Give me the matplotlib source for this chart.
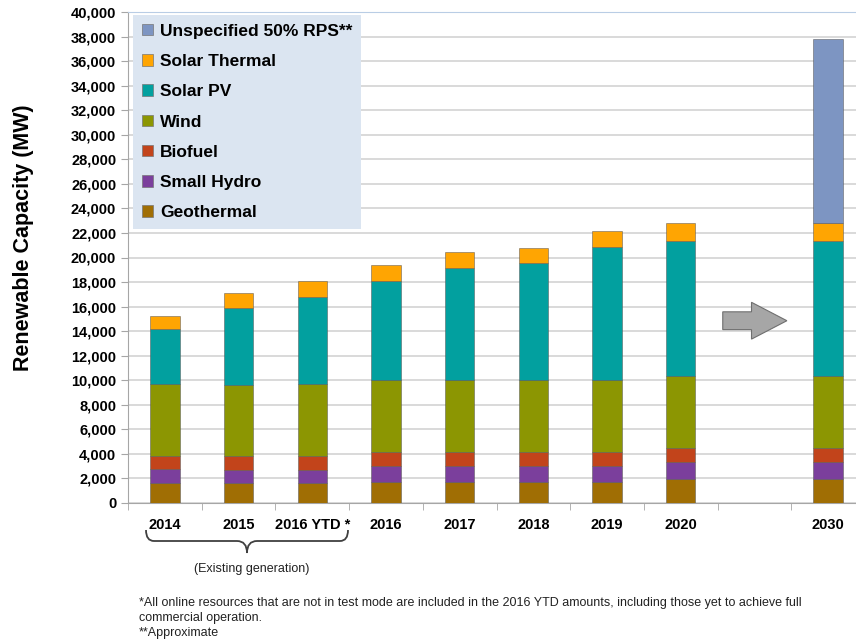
import numpy as np
import matplotlib
matplotlib.use("Agg")
import matplotlib.pyplot as plt
from matplotlib.patches import Patch, FancyArrow, PathPatch
from matplotlib.path import Path
from matplotlib.ticker import FuncFormatter, MultipleLocator

# --- data (MW); None = empty slot before 2030
years = ['2014', '2015', '2016 YTD *', '2016', '2017', '2018', '2019', '2020', '', '2030']
geothermal = [1600, 1600, 1600, 1750, 1750, 1750, 1750, 1980, None, 1980]
small_hydro = [1200, 1100, 1100, 1290, 1290, 1290, 1290, 1330, None, 1330]
biofuel = [1050, 1150, 1150, 1120, 1120, 1130, 1130, 1140, None, 1140]
wind = [5850, 5740, 5850, 5870, 5870, 5850, 5850, 5920, None, 5920]
solar_pv = [4500, 6300, 7080, 8090, 9150, 9510, 10860, 11000, None, 11000]
solar_thermal = [1030, 1240, 1310, 1250, 1250, 1270, 1280, 1420, None, 1420]
unspecified = [0, 0, 0, 0, 0, 0, 0, 0, None, 14980]

series = [
    ('Geothermal', geothermal, '#a06e04'),
    ('Small Hydro', small_hydro, '#7b3f9c'),
    ('Biofuel', biofuel, '#c2441b'),
    ('Wind', wind, '#8c9602'),
    ('Solar PV', solar_pv, '#02a09f'),
    ('Solar Thermal', solar_thermal, '#ffa502'),
    ('Unspecified 50% RPS**', unspecified, '#7d95c2'),
]

W, H = 856, 644
plt.rcParams['font.family'] = ['Liberation Sans', 'DejaVu Sans']

fig = plt.figure(figsize=(W / 100, H / 100), dpi=100)


def px(x, y):
    return (x / W, 1 - y / H)


x0, y_top = 128, 12
x1, y_bot = 865, 503
ax = fig.add_axes([x0 / W, 1 - y_bot / H, (x1 - x0) / W, (y_bot - y_top) / H])

pos = np.arange(len(years))
keep = [i for i, v in enumerate(geothermal) if v is not None]
bottom = np.zeros(len(keep))
for name, vals, col in series:
    h = np.array([vals[i] for i in keep], dtype=float)
    mask = h > 0
    ax.bar(pos[keep][mask], h[mask], bottom=bottom[mask], width=0.4,
           color=col, edgecolor=matplotlib.colors.to_rgba('#555555', 0.5),
           linewidth=0.7, zorder=3)
    bottom += h

ax.set_xlim(-0.5, len(years) - 0.5)
ax.set_ylim(0, 40000)
ax.yaxis.set_major_locator(MultipleLocator(2000))
ax.yaxis.set_major_formatter(FuncFormatter(lambda v, p: f'{int(v):,}'))
ax.grid(axis='y', color='#d9d9d9', linewidth=1.4, zorder=0)
ax.set_axisbelow(True)

ax.set_xticks(pos)
ax.set_xticklabels(years)
ax.set_xticks(np.arange(-0.5, len(years)), minor=True)
ax.tick_params(axis='x', which='major', length=0, pad=11, labelsize=10.5)
ax.tick_params(axis='x', which='minor', length=5, color='#a6a6a6')
ax.tick_params(axis='y', length=5, color='#a6a6a6', labelsize=10.5)
for lab in ax.get_xticklabels() + ax.get_yticklabels():
    lab.set_fontweight('bold')

ax.spines['right'].set_visible(False)
ax.spines['top'].set_color('#b9cde5')
ax.spines['left'].set_color('#a6a6a6')
ax.spines['bottom'].set_color('#a6a6a6')

fig.text(*px(24, 238), 'Renewable Capacity (MW)', rotation=90, ha='center',
         va='center', fontsize=15.5, fontweight='bold')

# legend
handles = [Patch(facecolor=c, edgecolor='#777777', linewidth=0.5, label=n)
           for n, _, c in series[::-1]]
leg = fig.legend(handles=handles, loc='upper left', bbox_to_anchor=px(133, 15),
                 bbox_transform=fig.transFigure, borderaxespad=0,
                 prop={'weight': 'bold', 'size': 12.5},
                 handlelength=0.65, handleheight=0.65, handletextpad=0.4,
                 labelspacing=0.88, borderpad=0.5, frameon=True, fancybox=False)
leg.get_frame().set_facecolor('#dbe5f1')
leg.get_frame().set_edgecolor('none')
leg.get_frame().set_alpha(1)

# grey arrow towards 2030
ax.add_patch(FancyArrow(7.57, 14850, 0.87, 0, width=1450, head_width=3000,
                        head_length=0.48, length_includes_head=True,
                        facecolor='#a6a6a6', edgecolor='#6f6f6f', linewidth=0.8,
                        zorder=4))

# brace under existing generation
xl, xr, xm = 146, 348, 247
yt, ym, yb = 530, 541, 553
verts = [px(xl, yt), px(xl, ym), px(xl + 8, ym), px(xm - 10, ym),
         px(xm, ym), px(xm, yb),
         px(xm, ym), px(xm + 10, ym),
         px(xr - 8, ym), px(xr, ym), px(xr, yt)]
codes = [Path.MOVETO, Path.CURVE3, Path.CURVE3, Path.LINETO,
         Path.CURVE3, Path.CURVE3,
         Path.CURVE3, Path.CURVE3,
         Path.LINETO, Path.CURVE3, Path.CURVE3]
fig.patches.append(PathPatch(Path(verts, codes), transform=fig.transFigure,
                             facecolor='none', edgecolor='#404040', linewidth=1.3))
fig.text(*px(252, 569), '(Existing generation)', ha='center', va='center',
         fontsize=9, color='#222222')

notes = ['*All online resources that are not in test mode are included in the 2016 YTD amounts, including those yet to achieve full',
         'commercial operation.',
         '**Approximate']
for i, t in enumerate(notes):
    fig.text(*px(139, 603 + 15 * i), t, ha='left', va='center', fontsize=9,
             color='#222222')

fig.savefig('out.png', dpi=100)
